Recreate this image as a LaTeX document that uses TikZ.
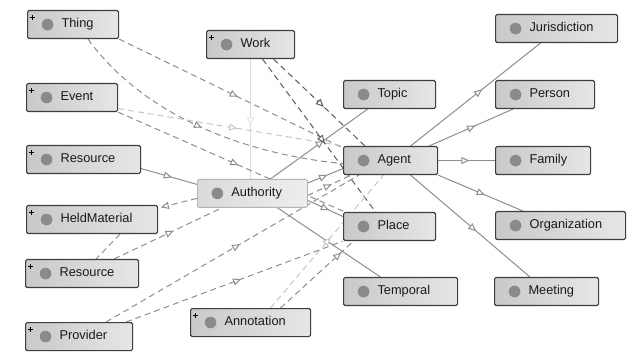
\documentclass[tikz,border=0pt]{standalone}
\usepackage{fontspec}
\setmainfont{Liberation Sans}
\usetikzlibrary{arrows.meta,calc,decorations.markings}

\definecolor{edgecol}{HTML}{8E8E8E}
\definecolor{darkdash}{HTML}{5C5C5C}
\definecolor{lightln}{HTML}{C6C6C6}
\definecolor{faintln}{HTML}{DDDDDD}
\definecolor{boxline}{HTML}{3E3E3E}
\definecolor{boxL}{HTML}{C9C9C9}
\definecolor{boxR}{HTML}{E6E6E6}
\definecolor{selL}{HTML}{DADADA}
\definecolor{selR}{HTML}{EEEEEE}
\definecolor{selline}{HTML}{B4B4B4}
\definecolor{dotcol}{HTML}{8A8A8A}
\definecolor{labcol}{HTML}{1A1A1A}

\pgfdeclarelayer{bg}
\pgfdeclarelayer{edges}
\pgfsetlayers{bg,edges,main}

% label with room for the class bullet on the left
\newcommand\lab[2]{\makebox[#1pt][l]{\hspace*{34pt}#2}}

\begin{document}
\begin{tikzpicture}[x=1pt,y=-1pt,
  cls/.style={draw=boxline, line width=1.1pt, rounded corners=1.5pt,
    left color=boxL, right color=boxR, minimum height=28pt, inner sep=0pt,
    anchor=north west, text height=9pt, text depth=2.5pt, text=labcol,
    font=\fontsize{12.8}{14}\selectfont,
    path picture={\fill[dotcol] ($(path picture bounding box.west)+(20,0)$) circle (5.8pt);}},
  selcls/.style={cls, draw=selline, line width=0.8pt, left color=selL, right color=selR},
  subl/.style={draw, color=edgecol, line width=1pt},
  prop/.style={draw, color=edgecol, line width=1pt, dash pattern=on 6pt off 4pt},
  dprop/.style={prop, color=darkdash},
  lprop/.style={prop, color=lightln},
  tri/.style={postaction={decorate}, decoration={markings,
    mark=at position #1 with {\arrow{Triangle[fill=white, length=8pt, width=7pt]}}}},
]
\useasboundingbox (0,0) rectangle (637,355);
\begin{pgfonlayer}{bg}
  \fill[white] (0,0) rectangle (637,355);
\end{pgfonlayer}

% classes
\node[cls] (thing)    at (27,10)   {\lab{91}{Thing}};
\node[cls] (work)     at (206,30)  {\lab{88}{Work}};
\node[cls] (event)    at (26,83)   {\lab{91}{Event}};
\node[cls] (resA)     at (26,145)  {\lab{114}{Resource}};
\node[cls] (held)     at (26,205)  {\lab{131}{HeldMaterial}};
\node[cls] (resB)     at (25,259)  {\lab{113}{Resource}};
\node[cls] (provider) at (25,322)  {\lab{107}{Provider}};
\node[cls] (annot)    at (190,308) {\lab{120}{Annotation}};
\node[selcls] (auth)  at (197,179) {\lab{110}{Authority}};
\node[cls] (topic)    at (343,80)  {\lab{92}{Topic}};
\node[cls] (agent)    at (343,146) {\lab{94}{Agent}};
\node[cls] (place)    at (343,212) {\lab{92}{Place}};
\node[cls] (temporal) at (343,277) {\lab{114}{Temporal}};
\node[cls] (juris)    at (495,14)  {\lab{122}{Jurisdiction}};
\node[cls] (person)   at (495,80)  {\lab{99}{Person}};
\node[cls] (family)   at (495,146) {\lab{95}{Family}};
\node[cls] (org)      at (495,211) {\lab{130}{Organization}};
\node[cls] (meeting)  at (494,277) {\lab{104}{Meeting}};

% expand markers on collapsed classes
\foreach \n in {thing,work,event,resA,held,resB,provider,annot}
  \draw[black, line width=0.6pt]
    ($(\n.north west)+(3,7.5)$) -- ++(5,0)
    ($(\n.north west)+(5.5,5)$) -- ++(0,5);

\begin{pgfonlayer}{edges}
  % subclass links
  \path[subl, tri=0.55] ($(agent.north)+(20,0)$) -- ($(juris.south)+(-16,0)$);
  \path[subl, tri=0.55] ($(agent.north east)+(-9,0)$) -- ($(person.south west)+(18,0)$);
  \path[subl, tri=0.55] (agent.east) -- (family.west);
  \path[subl, tri=0.55] (agent.south east) -- ($(org.north west)+(28,0)$);
  \path[subl, tri=0.55] ($(agent.south)+(20,0)$) -- ($(meeting.north west)+(36,0)$);
  \path[subl, tri=0.55] ($(auth.north)+(18,0)$) -- ($(topic.south)+(-22,0)$);
  \path[subl, tri=0.55] ($(auth.north east)+(0,4)$) -- ($(agent.west)+(0,8)$);
  \path[subl, tri=0.6]  ($(auth.east)+(0,7)$) -- ($(place.west)+(0,-10)$);
  \path[subl] ($(auth.south)+(25,0)$) -- ($(temporal.north)+(-20,0)$);
  \path[subl, tri=0.55] ($(resA.east)+(0,9)$) -- ($(auth.west)+(0,-9)$);
  \path[subl, color=faintln, line width=0.7pt, tri=0.55] (work.south) -- ($(auth.north)+(-2,0)$);

  % property links
  \path[prop, tri=0.53] (thing.south east) -- ($(agent.north west)+(0,2)$);
  \path[prop, tri=0.5] ($(thing.south)+(15,0)$) .. controls (145,118) and (250,155) .. ($(agent.west)+(0,3)$);
  \path[prop, tri=0.53] (event.south east) -- ($(place.north west)+(2,0)$);
  \path[lprop, tri=0.53] ($(event.east)+(0,11)$) -- (agent.north west);
  \path[dprop, tri=0.55] ($(work.south)+(23,0)$) -- ($(agent.north west)+(22,0)$);
  \path[dprop, tri=0.55] ($(work.south)+(12,0)$) -- ($(place.north)+(-14,0)$);
  \path[prop, tri=0.93] ($(auth.west)+(0,5)$) -- ($(held.north east)+(0,3)$);
  \path[prop, tri=0.55] ($(resB.north)+(32,0)$) -- ($(auth.south west)+(25,0)$);
  \path[prop] ($(held.south)+(28,0)$) -- ($(resB.north)+(14,0)$);
  \path[prop, tri=0.53] ($(provider.north)+(27,0)$) -- ($(agent.south west)+(16,0)$);
  \path[prop, tri=0.53] ($(provider.north)+(47,0)$) -- (place.south west);
  \path[prop, tri=0.83] ($(annot.north)+(30,0)$) -- ($(place.south)+(-36,0)$);
  \path[lprop, tri=0.53] ($(annot.north)+(20,0)$) -- ($(agent.south)+(-7,0)$);
  \path[prop, tri=0.55] ($(auth.east)+(0,2)$) -- ($(agent.south west)+(8,0)$);
\end{pgfonlayer}
\end{tikzpicture}
\end{document}
